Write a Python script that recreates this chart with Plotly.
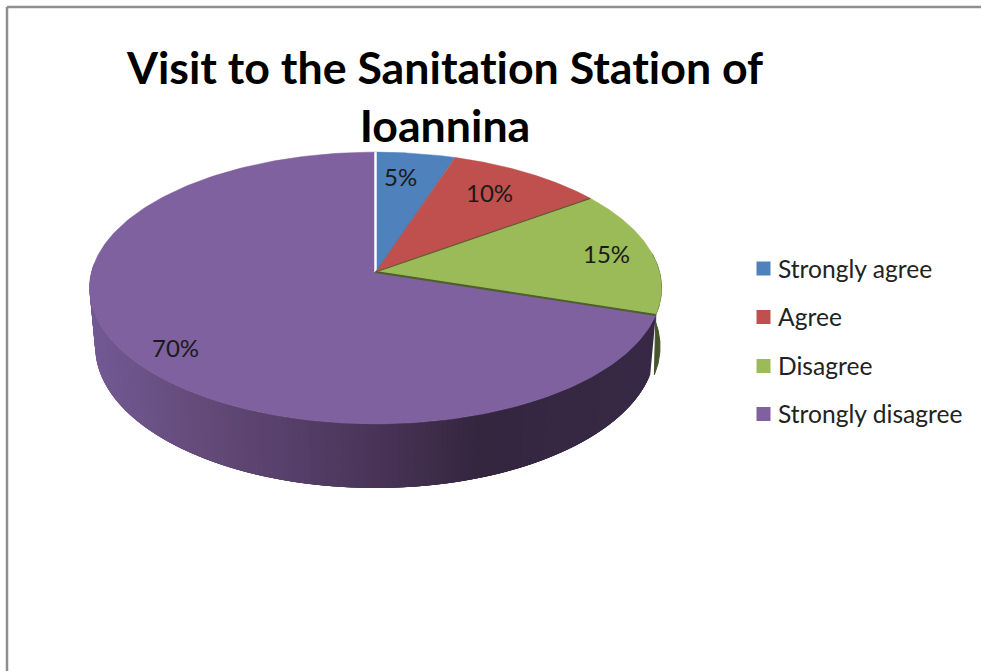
import numpy as np
import plotly.graph_objects as go

categories = ["Strongly agree", "Agree", "Disagree", "Strongly disagree"]
values = [5, 10, 15, 70]
colors = ["#4f81bd", "#c0504d", "#9bbb59", "#7f619f"]
title_text = "Visit to the Sanitation Station of<br>Ioannina"
label_pos = [(400, 176), (489, 192), (606, 253.5), (175, 347)]
legend_y = [268.5, 317, 366, 414]
legend_text_y = [268, 316, 365, 413]

CX, CY, A, B, K = 375.5, 272, 284, 134, 0.1178
FONT = "Lato, Carlito, sans-serif"


def top(theta):
    th = np.radians(theta)
    X, Y = np.sin(th), np.cos(th)
    d = 1 + K * Y
    return CX + A * X / d, CY - B * Y / d


def bottom(theta, sx=0.98):
    th = np.radians(theta)
    X, Y = np.sin(th), np.cos(th)
    d = 1 + K * Y
    return CX + sx * A * X / d, CY + 58 - 1.04 * B * Y / d


def arc(fn, a, b, n=80):
    return fn(np.linspace(a, b, n))


def side_colour(x):
    xs = [90, 200, 375, 480, 660]
    rs = [[0x73, 0x5a, 0x94], [0x64, 0x4b, 0x7a], [0x4a, 0x35, 0x59], [0x35, 0x26, 0x3f], [0x38, 0x2a, 0x47]]
    c = [int(np.interp(x, xs, [r[i] for r in rs])) for i in range(3)]
    return f"rgb({c[0]},{c[1]},{c[2]})"


edges = np.cumsum([0] + values) * 3.6
fig = go.Figure()


def poly(xs, ys, fill, line=None, width=1):
    fig.add_trace(go.Scatter(x=list(xs), y=list(ys), mode="lines", fill="toself", fillcolor=fill,
                             line=dict(color=line or fill, width=width), hoverinfo="skip", showlegend=False))


# green outer wall
tx, ty = arc(top, 82, edges[3])
bx, by = arc(lambda t: bottom(t, 0.995), 82, edges[3])
poly(np.r_[tx, bx[::-1]], np.r_[ty, by[::-1]], "#46562a")

# purple outer wall, shaded along its length; each piece runs under the next
seg = np.arange(edges[3], 274, 1.0)
for a0, a1 in zip(seg[:-1], seg[1:]):
    end = min(a1 + 3, 274)
    tx, ty = arc(top, a0, end, 5)
    bx, by = arc(bottom, a0, end, 5)
    c = side_colour(float(top(0.5 * (a0 + a1))[0]))
    poly(np.r_[tx, bx[::-1]], np.r_[ty, by[::-1]], c, width=0)

# top faces
for i, (cat, col) in enumerate(zip(categories, colors)):
    x, y = arc(top, edges[i], edges[i + 1], 240)
    poly(np.r_[CX, x, CX], np.r_[CY, y, CY], col, width=0.5)

# slice boundaries
for i, (col, w) in enumerate([("#ffffff", 2.5), ("#4f6f9a", 0.8), ("#5f5a30", 1.2), ("#4e5f2f", 2)]):
    ex, ey = top(edges[i])
    fig.add_trace(go.Scatter(x=[CX, float(ex)], y=[CY, float(ey)], mode="lines",
                             line=dict(color=col, width=w), hoverinfo="skip", showlegend=False))

# legend swatches
fig.add_trace(go.Scatter(x=[763.5] * len(categories), y=legend_y, mode="markers", hovertext=categories,
                         hoverinfo="text", showlegend=False,
                         marker=dict(symbol="square", size=14, color=colors)))

annotations = [dict(x=p[0], y=p[1], xref="x", yref="y", text=f"{v}%", showarrow=False,
                    font=dict(family=FONT, size=24, color="#1a1a1a"))
               for v, p in zip(values, label_pos)]
annotations += [dict(x=776, y=yy, xref="x", yref="y", text=cat, showarrow=False, xanchor="left",
                     font=dict(family=FONT, size=24.6, color="#222222"))
                for cat, yy in zip(categories, legend_text_y)]

frame = dict(type="line", xref="x", yref="y", line=dict(color="#8e8e8e", width=2.5))
fig.update_layout(
    width=981, height=671, margin=dict(l=0, r=0, t=0, b=0), showlegend=False,
    paper_bgcolor="white", plot_bgcolor="white",
    xaxis=dict(range=[0, 981], visible=False, fixedrange=True),
    yaxis=dict(range=[671, 0], visible=False, fixedrange=True),
    title=dict(text=title_text, x=445 / 981, xanchor="center", y=1 - 84 / 671, yanchor="top",
               font=dict(family=FONT, size=44.7, color="#000000", weight="bold")),
    annotations=annotations,
    shapes=[dict(frame, x0=7, y0=7, x1=981, y1=7), dict(frame, x0=7, y0=7, x1=7, y1=671)],
)
fig.write_html("out.html", config={"displayModeBar": False}, post_script=(
    "document.body.style.margin='0';document.body.style.overflow='hidden';"
    "var s=document.createElement('style');"
    "s.textContent='svg text{font-variant-ligatures:none !important;"
    "font-feature-settings:\"liga\" 0,\"clig\" 0 !important;letter-spacing:0.01px}';"
    "document.head.appendChild(s);"))
